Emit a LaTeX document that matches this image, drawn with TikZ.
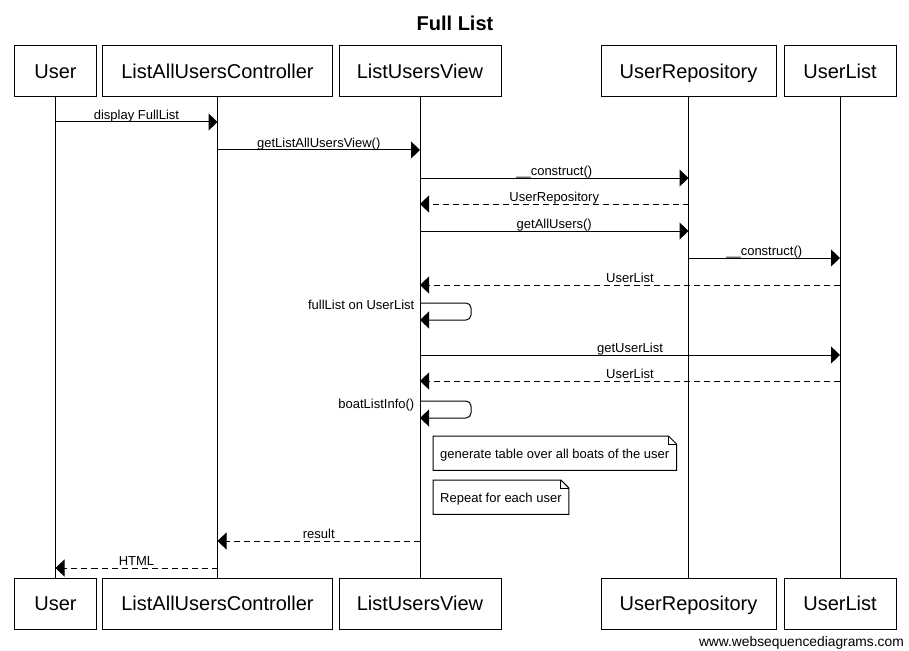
\documentclass[tikz,border=0pt]{standalone}
\usepackage{fontspec}
\setmainfont{Liberation Sans}
\usetikzlibrary{arrows.meta}
\begin{document}
\begin{tikzpicture}[x=1bp,y=-1bp,
  actor/.style={draw, line width=1bp, inner sep=0pt, minimum height=51bp, text height=14.5bp, text depth=0pt, font=\fontsize{20bp}{24bp}\selectfont},
  msg/.style={line width=1bp, -{Triangle[length=9bp,width=17bp]}},
  ret/.style={msg, dash pattern=on 6bp off 4bp},
  lbl/.style={font=\fontsize{13bp}{15bp}\selectfont, inner sep=0.5bp, text depth=1.5bp},
  notetext/.style={font=\fontsize{13bp}{15bp}\selectfont, inner xsep=7bp, inner ysep=0pt, text height=10.5bp, text depth=0pt, anchor=north west, minimum height=34bp},
  notebox/.style={line width=1bp},
  life/.style={line width=1bp}]
\useasboundingbox (0,0) rectangle (909,651);
\fill[white] (0,0) rectangle (909,651);
\node[font=\bfseries\fontsize{20bp}{24bp}\selectfont] (title) at (455,23) {Full List};
% top actors
\node[actor, minimum width=81bp] (uT) at (55.5,71.5) {User};
\node[actor, minimum width=229bp] (cT) at (217.5,71.5) {ListAllUsersController};
\node[actor, minimum width=162bp] (vT) at (420,71.5) {ListUsersView};
\node[actor, minimum width=175bp] (rT) at (688.5,71.5) {UserRepository};
\node[actor, minimum width=112bp] (lT) at (840,71.5) {UserList};
% bottom actors
\node[actor, minimum width=81bp] (uB) at (55.5,603.5) {User};
\node[actor, minimum width=229bp] (cB) at (217.5,603.5) {ListAllUsersController};
\node[actor, minimum width=162bp] (vB) at (420,603.5) {ListUsersView};
\node[actor, minimum width=175bp] (rB) at (688.5,603.5) {UserRepository};
\node[actor, minimum width=112bp] (lB) at (840,603.5) {UserList};
% lifelines
\draw[life] (uT.south) -- (uB.north);
\draw[life] (cT.south) -- (cB.north);
\draw[life] (vT.south) -- (vB.north);
\draw[life] (rT.south) -- (rB.north);
\draw[life] (lT.south) -- (lB.north);
% message coordinates
\coordinate (m1a) at (55.5,122);  \coordinate (m1b) at (217.5,122);
\coordinate (m2a) at (217.5,150); \coordinate (m2b) at (420,150);
\coordinate (m3a) at (420,178);   \coordinate (m3b) at (688.5,178);
\coordinate (m4a) at (688.5,204); \coordinate (m4b) at (420,204);
\coordinate (m5a) at (420,231);   \coordinate (m5b) at (688.5,231);
\coordinate (m6a) at (688.5,258); \coordinate (m6b) at (840,258);
\coordinate (m7a) at (840,285);   \coordinate (m7b) at (420,285);
\coordinate (s1a) at (420,303);   \coordinate (s1b) at (420,320);
\coordinate (m9a) at (420,355);   \coordinate (m9b) at (840,355);
\coordinate (m10a) at (840,381);  \coordinate (m10b) at (420,381);
\coordinate (s2a) at (420,401);   \coordinate (s2b) at (420,418);
\coordinate (m14a) at (420,541);  \coordinate (m14b) at (217.5,541);
\coordinate (m15a) at (217.5,568);\coordinate (m15b) at (55.5,568);
% messages
\draw[msg] (m1a) -- node[lbl, above] {display FullList} (m1b);
\draw[msg] (m2a) -- node[lbl, above] {getListAllUsersView()} (m2b);
\draw[msg] (m3a) -- node[lbl, above] {\_\_construct()} (m3b);
\draw[ret] (m4a) -- node[lbl, above] {UserRepository} (m4b);
\draw[msg] (m5a) -- node[lbl, above] {getAllUsers()} (m5b);
\draw[msg] (m6a) -- node[lbl, above] {\_\_construct()} (m6b);
\draw[ret] (m7a) -- node[lbl, above] {UserList} (m7b);
\draw[msg, rounded corners=5bp] (s1a) -- ++(51,0) -- ++(0,17) -- (s1b);
\node[lbl, anchor=east, text depth=0pt] (s1l) at (415,305) {fullList on UserList};
\draw[msg] (m9a) -- node[lbl, above] {getUserList} (m9b);
\draw[ret] (m10a) -- node[lbl, above] {UserList} (m10b);
\draw[msg, rounded corners=5bp] (s2a) -- ++(51,0) -- ++(0,17) -- (s2b);
\node[lbl, anchor=east, text depth=0pt] (s2l) at (415,404) {boatListInfo()};
% notes
\node[notetext] (n1) at (433,436) {generate table over all boats of the user};
\draw[notebox] (n1.south west) -- (n1.north west) -- ([xshift=-8bp]n1.north east) -- ([yshift=-8bp]n1.north east) -- (n1.south east) -- cycle;
\draw[notebox] ([xshift=-8bp]n1.north east) -- ([xshift=-8bp,yshift=-8bp]n1.north east) -- ([yshift=-8bp]n1.north east);
\node[notetext] (n2) at (433,480) {Repeat for each user};
\draw[notebox] (n2.south west) -- (n2.north west) -- ([xshift=-8bp]n2.north east) -- ([yshift=-8bp]n2.north east) -- (n2.south east) -- cycle;
\draw[notebox] ([xshift=-8bp]n2.north east) -- ([xshift=-8bp,yshift=-8bp]n2.north east) -- ([yshift=-8bp]n2.north east);
\draw[ret] (m14a) -- node[lbl, above] {result} (m14b);
\draw[ret] (m15a) -- node[lbl, above] {HTML} (m15b);
% footer
\node[font=\fontsize{13.8bp}{16bp}\selectfont, anchor=east, inner sep=0pt] (foot) at (904,643) {www.websequencediagrams.com};
\end{tikzpicture}
\end{document}
